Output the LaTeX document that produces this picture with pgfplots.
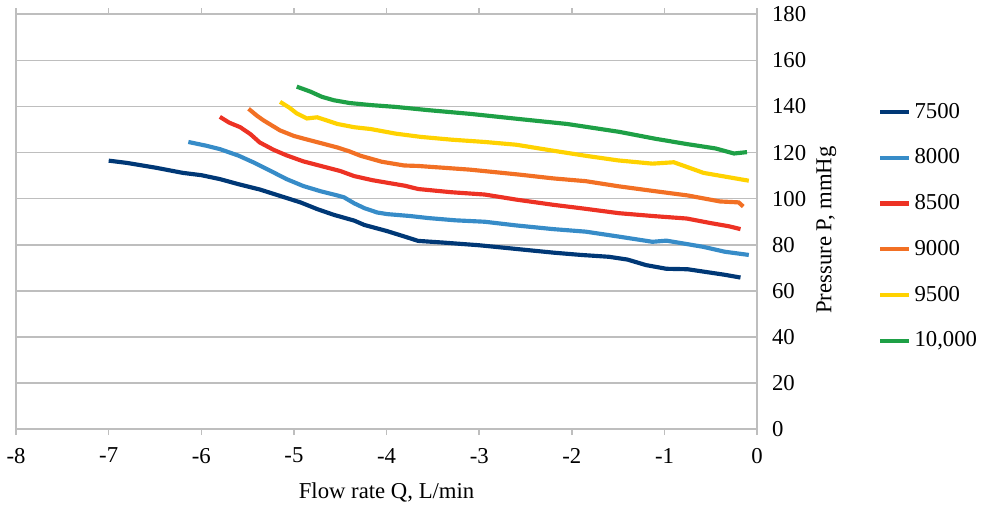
\documentclass[border=0pt]{standalone}
\usepackage{pgfplots}
\pgfplotsset{compat=1.18}
\usepackage{fontspec}
\setmainfont{Liberation Serif}
\definecolor{c1}{RGB}{0,56,118}
\definecolor{c2}{RGB}{55,140,200}
\definecolor{c3}{RGB}{237,50,36}
\definecolor{c4}{RGB}{242,112,36}
\definecolor{c5}{RGB}{255,210,0}
\definecolor{c6}{RGB}{30,160,70}
\definecolor{gl}{RGB}{190,190,190}
\begin{document}
\begin{tikzpicture}
\begin{axis}[
  scale only axis, width=375pt, height=210pt,
  xmin=-8, xmax=0, ymin=0, ymax=180,
  font=\fontsize{11.5}{14}\selectfont,
  axis line style={gl, line width=0.8pt},
  xtick={-8,-7,-6,-5,-4,-3,-2,-1,0},
  xticklabels={-8,-7,-6,-5,-4,-3,-2,-1,0},
  ytick={0,20,...,180},
  yticklabel pos=right,
  yticklabel style={anchor=west, xshift=1pt},
  /pgf/number format/assume math mode=true,
  xtick style={draw=gl, line width=0.8pt},
  ytick style={draw=none},
  tick align=outside, major tick length=3pt,
  xticklabel style={yshift=-3pt},
  ymajorgrids, grid style={gl, line width=0.8pt},
  xlabel={Flow rate Q, L/min},
  xlabel style={yshift=-3pt},
  ylabel={Pressure P, mmHg},
  every axis y label/.style={at={(rel axis cs:1,0.48)}, rotate=90, anchor=center, yshift=-35pt},
  legend style={at={(rel axis cs:1.163,0.489)}, anchor=west, draw=none, fill=none, inner sep=0pt, row sep=10pt, font=\fontsize{11.5}{14}\selectfont},
  legend cell align=left,
  legend image code/.code={\draw[#1] (0cm,0cm) -- (0.5cm,0cm);},
  every axis plot/.append style={line width=2.1pt},
]
\addplot[c1] coordinates {(-7.00,116.5) (-6.8,115.5) (-6.5,113.5) (-6.2,111.2) (-6.0,110.2) (-5.8,108.5) (-5.6,106.3) (-5.37,104.0) (-5.15,101.2) (-4.93,98.4) (-4.75,95.5) (-4.57,93.0) (-4.35,90.5) (-4.24,88.6) (-4.0,86.0) (-3.8,83.5) (-3.66,81.7) (-3.4,81.0) (-3.0,79.8) (-2.6,78.2) (-2.2,76.6) (-1.9,75.6) (-1.6,74.8) (-1.4,73.6) (-1.2,71.2) (-0.98,69.6) (-0.75,69.4) (-0.55,68.2) (-0.35,67.0) (-0.18,65.8)};
\addlegendentry{7500}
\addplot[c2] coordinates {(-6.14,124.6) (-5.95,123.0) (-5.8,121.5) (-5.6,118.7) (-5.44,115.8) (-5.25,112.0) (-5.08,108.5) (-4.9,105.5) (-4.71,103.2) (-4.55,101.6) (-4.46,100.6) (-4.35,98.0) (-4.24,95.9) (-4.1,94.0) (-3.99,93.3) (-3.75,92.5) (-3.55,91.6) (-3.25,90.6) (-2.94,90.0) (-2.6,88.4) (-2.2,86.8) (-1.85,85.7) (-1.5,83.6) (-1.13,81.3) (-0.98,81.8) (-0.8,80.6) (-0.58,79.1) (-0.35,77.0) (-0.09,75.6)};
\addlegendentry{8000}
\addplot[c3] coordinates {(-5.80,135.5) (-5.7,133.0) (-5.58,131.0) (-5.47,128.0) (-5.37,124.4) (-5.22,121.2) (-5.08,118.8) (-4.9,116.2) (-4.71,114.2) (-4.5,112.0) (-4.35,109.8) (-4.15,108.0) (-3.99,106.9) (-3.8,105.6) (-3.66,104.2) (-3.3,102.8) (-2.94,101.8) (-2.6,99.6) (-2.21,97.4) (-1.85,95.6) (-1.49,93.7) (-1.1,92.4) (-0.76,91.4) (-0.5,89.4) (-0.3,88.0) (-0.18,86.8)};
\addlegendentry{8500}
\addplot[c4] coordinates {(-5.49,139.0) (-5.40,136.0) (-5.33,134.0) (-5.15,129.6) (-5.0,127.2) (-4.89,126.0) (-4.7,124.0) (-4.53,122.2) (-4.4,120.5) (-4.28,118.6) (-4.05,116.0) (-3.81,114.4) (-3.66,114.2) (-3.1,112.6) (-2.58,110.5) (-2.2,108.8) (-1.85,107.6) (-1.5,105.4) (-1.13,103.4) (-0.75,101.4) (-0.40,98.8) (-0.3,98.6) (-0.2,98.4) (-0.15,96.6)};
\addlegendentry{9000}
\addplot[c5] coordinates {(-5.15,142.0) (-5.05,139.5) (-4.97,137.0) (-4.86,134.8) (-4.75,135.3) (-4.65,134.0) (-4.53,132.4) (-4.35,131.0) (-4.17,130.2) (-3.9,128.2) (-3.63,126.8) (-3.3,125.6) (-2.94,124.6) (-2.6,123.4) (-2.2,120.8) (-1.85,118.6) (-1.5,116.6) (-1.13,115.2) (-0.9,115.8) (-0.69,112.8) (-0.58,111.2) (-0.35,109.6) (-0.09,107.8)};
\addlegendentry{9500}
\addplot[c6] coordinates {(-4.97,148.6) (-4.82,146.4) (-4.7,144.2) (-4.57,142.7) (-4.4,141.5) (-4.17,140.6) (-3.9,139.8) (-3.55,138.4) (-3.1,136.8) (-2.58,134.6) (-2.05,132.4) (-1.49,129.0) (-1.1,126.0) (-0.76,123.7) (-0.45,121.8) (-0.25,119.6) (-0.11,120.2)};
\addlegendentry{10,000}
\end{axis}
\end{tikzpicture}
\end{document}
